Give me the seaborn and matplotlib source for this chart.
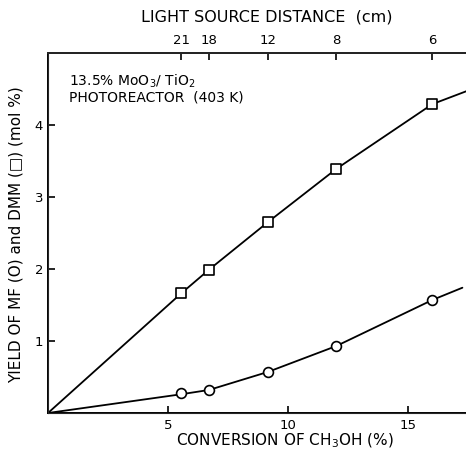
import matplotlib
matplotlib.use("Agg")
import matplotlib.pyplot as plt
import seaborn as sns
import numpy as np
import pandas as pd

# data
conversion = [5.54, 6.7, 9.15, 12.0, 16.0]
dmm_yield = [1.66, 1.99, 2.65, 3.39, 4.29]
mf_yield = [0.28, 0.32, 0.57, 0.93, 1.57]
distance_labels = ["21", "18", "12", "8", "6"]
# drawn curves (origin, through points, to the end of the drawn line)
dmm_curve_x = [0.0, 5.54, 6.7, 9.15, 12.0, 16.0, 17.5]
dmm_curve_y = [0.0, 1.66, 1.99, 2.65, 3.39, 4.29, 4.48]
mf_curve_x = [0.0, 5.54, 6.7, 9.15, 12.0, 16.0, 17.25]
mf_curve_y = [0.0, 0.26, 0.32, 0.57, 0.93, 1.57, 1.74]
x_ticks = [5, 10, 15]
y_ticks = [1, 2, 3, 4]

sns.set_style("ticks")
plt.rcParams['font.family'] = ['DejaVu Sans']
plt.rcParams['text.color'] = 'black'
plt.rcParams['axes.labelcolor'] = 'black'

fig = plt.figure(figsize=(4.66, 4.51), dpi=100)
ax = fig.add_axes([48/466, 38/451, 1 - 48/466, 360/451])

df_dmm = pd.DataFrame({"x": dmm_curve_x, "y": dmm_curve_y})
df_mf = pd.DataFrame({"x": mf_curve_x, "y": mf_curve_y})
sns.lineplot(data=df_dmm, x="x", y="y", ax=ax, color="black", lw=1.3, sort=False)
sns.lineplot(data=df_mf, x="x", y="y", ax=ax, color="black", lw=1.3, sort=False)

pts = pd.DataFrame({"x": conversion, "dmm": dmm_yield, "mf": mf_yield})
sns.scatterplot(data=pts, x="x", y="dmm", ax=ax, marker="s", s=45,
                facecolor="white", edgecolor="black", linewidth=1.2, zorder=5)
sns.scatterplot(data=pts, x="x", y="mf", ax=ax, marker="o", s=50,
                facecolor="white", edgecolor="black", linewidth=1.2, zorder=5)

ax.set_xlim(0, 17.4)
ax.set_ylim(0, 5.0)
ax.set_xticks(x_ticks)
ax.set_yticks(y_ticks)
ax.set_xticklabels([str(t) for t in x_ticks])
ax.set_yticklabels([str(t) for t in y_ticks])
ax.tick_params(direction="in", length=5, width=1.2, labelsize=9.5, colors="black")
ax.tick_params(axis="x", pad=4)
ax.spines["right"].set_visible(False)
for s in ["left", "bottom", "top"]:
    ax.spines[s].set_linewidth(1.4)
    ax.spines[s].set_color("black")

ax.set_xlabel("")
ax.set_ylabel("")
fig.text(285/466, 1 - 441/451, "CONVERSION OF CH$_3$OH (%)", ha="center", va="center",
         fontsize=11)
fig.text(16/466, 1 - 235/451, "YIELD OF MF (O) and DMM (\u25A1) (mol %)", ha="center",
         va="center", rotation=90, fontsize=11)

ax2 = ax.twiny()
ax2.set_xlim(ax.get_xlim())
ax2.set_xticks(conversion)
ax2.set_xticklabels(distance_labels)
ax2.tick_params(direction="in", length=5, width=1.2, labelsize=9.5, colors="black", pad=4)
ax2.spines["right"].set_visible(False)
ax2.spines["top"].set_linewidth(1.4)
fig.text(267/466, 1 - 17/451, "LIGHT SOURCE DISTANCE  (cm)", ha="center", va="center",
         fontsize=11.5)

ax.text(0.05, 0.945, "13.5% MoO$_3$/ TiO$_2$\nPHOTOREACTOR  (403 K)", transform=ax.transAxes,
        ha="left", va="top", fontsize=10, linespacing=1.05)

fig.savefig("out.png", dpi=100)
